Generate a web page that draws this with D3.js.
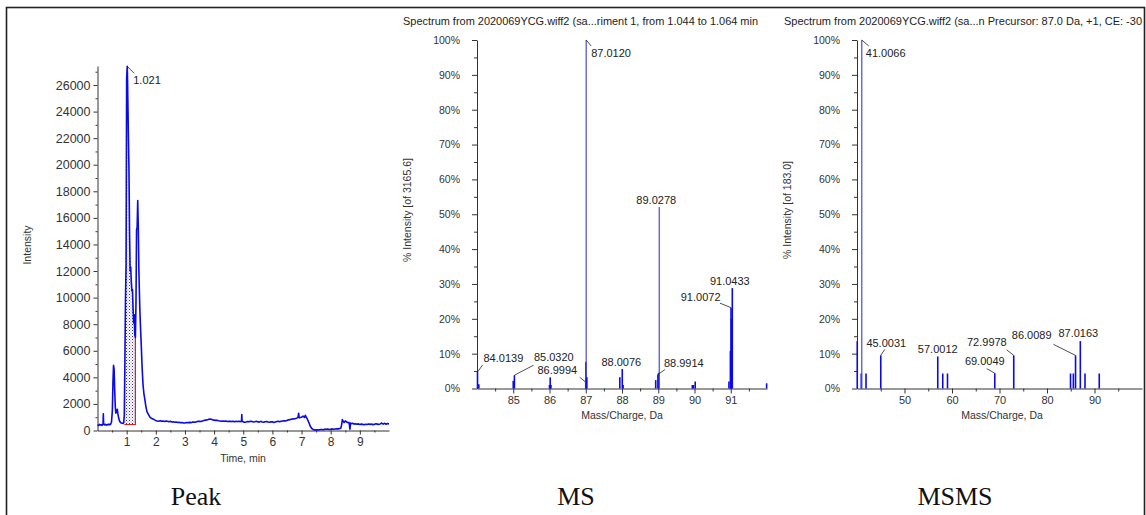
<!DOCTYPE html>
<html>
<head>
<meta charset="utf-8">
<script src="https://cdn.jsdelivr.net/npm/d3@7"></script>
<style>
  body { margin: 0; background: #fff; }
  svg { display: block; font-family: "Liberation Sans", Arial, sans-serif; }
  .axis text { fill: #333; }
  .axis path, .axis line { stroke: #333; }
</style>
</head>
<body>
<svg id="fig" width="1146" height="515"></svg>
<script>
// ---- chromatogram (time in min, intensity in counts) ----
const chromTrace = [
  [0.00,420],[0.04,380],[0.07,460],[0.10,410],[0.13,440],[0.16,390],[0.19,460],[0.20,1250],[0.21,520],
  [0.24,420],[0.27,470],[0.30,400],[0.33,450],[0.36,420],[0.39,480],[0.42,430],[0.45,470],[0.48,620],
  [0.51,1500],[0.53,3600],[0.55,4900],[0.57,4600],[0.59,3000],[0.61,1800],[0.63,1300],[0.66,1450],
  [0.68,1600],[0.70,1250],[0.73,900],[0.76,700],[0.79,600],[0.82,560],[0.85,550],[0.88,530],[0.90,600],
  [0.92,1200],[0.94,5200],[0.96,9800],[0.98,12500],[1.00,26500],[1.021,27400],[1.03,26500],[1.04,25000],
  [1.06,22100],[1.08,19600],[1.10,14800],[1.12,12000],[1.14,12300],[1.16,11200],[1.18,10500],[1.20,10600],
  [1.22,9200],[1.24,8100],[1.26,8700],[1.28,7200],[1.30,7000],[1.32,9600],[1.34,15100],[1.36,15300],
  [1.38,17300],[1.40,15200],[1.42,12000],[1.45,9300],[1.48,7500],[1.50,6500],[1.53,4800],[1.56,3500],
  [1.59,2800],[1.62,2400],[1.66,1800],[1.70,1400],[1.75,1200],[1.80,1000],[1.86,900],[1.92,850],[1.96,800],
  [2.00,760],[2.05,720],[2.10,700],[2.15,740],[2.20,690],[2.25,720],[2.30,680],[2.35,710],[2.40,700],
  [2.45,660],[2.50,690],[2.55,640],[2.60,660],[2.65,620],[2.70,640],[2.75,600],[2.80,610],[2.85,580],
  [2.90,600],[2.95,560],[3.00,570],[3.05,600],[3.10,580],[3.15,610],[3.20,590],[3.25,630],[3.30,640],
  [3.35,620],[3.40,660],[3.45,690],[3.50,700],[3.55,680],[3.60,720],[3.65,750],[3.70,780],[3.75,800],
  [3.80,830],[3.85,870],[3.90,840],[3.95,800],[4.00,780],[4.05,760],[4.10,770],[4.15,730],[4.20,720],
  [4.25,700],[4.30,710],[4.35,690],[4.40,720],[4.45,680],[4.50,690],[4.55,700],[4.60,670],[4.65,690],
  [4.70,660],[4.75,700],[4.80,680],[4.85,690],[4.90,670],[4.94,700],[4.95,1200],[4.96,690],[5.00,650],
  [5.05,620],[5.10,640],[5.15,680],[5.20,660],[5.25,700],[5.30,670],[5.35,640],[5.40,660],[5.45,700],
  [5.50,650],[5.55,630],[5.60,690],[5.65,640],[5.70,620],[5.75,660],[5.80,680],[5.85,640],[5.90,620],
  [5.95,660],[6.00,650],[6.05,610],[6.10,640],[6.15,680],[6.20,690],[6.25,660],[6.30,700],[6.35,720],
  [6.40,740],[6.45,720],[6.50,760],[6.55,800],[6.60,820],[6.65,850],[6.70,880],[6.75,860],[6.80,900],
  [6.85,950],[6.88,1000],[6.90,1300],[6.92,950],[6.95,980],[7.00,1000],[7.05,1080],[7.10,980],[7.13,1150],
  [7.16,1000],[7.20,850],[7.25,600],[7.30,320],[7.35,150],[7.40,80],[7.45,30],[7.50,50],[7.55,60],
  [7.60,40],[7.65,70],[7.70,80],[7.75,60],[7.80,100],[7.85,90],[7.90,110],[7.95,80],[8.00,100],
  [8.05,120],[8.10,90],[8.15,110],[8.20,130],[8.25,120],[8.30,140],[8.35,180],[8.38,500],[8.40,820],
  [8.43,700],[8.46,600],[8.50,720],[8.55,640],[8.60,580],[8.63,600],[8.66,100],[8.68,560],[8.70,500],
  [8.75,540],[8.80,480],[8.85,510],[8.90,470],[8.95,500],[9.00,450],[9.05,480],[9.10,460],[9.15,430],
  [9.20,470],[9.25,450],[9.30,490],[9.35,460],[9.40,480],[9.45,440],[9.50,460],[9.55,510],[9.60,480],
  [9.65,450],[9.70,500],[9.75,560],[9.80,480],[9.85,540],[9.90,470],[9.95,520],[10.00,500]
];
const peakStart = 0.92;
const peakEnd = 1.30;
const peakBaseline = 450;
const apexTime = 1.021;
const apexIntensity = 27400;
const chromYTicks = d3.range(0, 26001, 2000);
const chromXTicks = [1, 2, 3, 4, 5, 6, 7, 8, 9];

// ---- MS spectrum (m/z, % intensity) ----
const msTitle = 'Spectrum from 2020069YCG.wiff2 (sa...riment 1, from 1.044 to 1.064 min';
const msYLabel = '% Intensity [of 3165.6]';
const msPeaks = [
  [84.0139,4.7],[84.05,1.2],[85.00,2.2],[85.0320,3.8],[86.00,1.0],[86.02,3.2],[86.04,1.0],
  [86.9994,1.8],[87.005,7.6],[87.0120,100],[87.03,3.2],[87.94,3.2],[88.0076,5.6],[88.03,1.0],
  [88.93,2.4],[88.9914,4.0],[89.01,4.5],[89.0278,52.1],[89.94,1.0],[89.97,1.0],[90.02,2.0],
  [90.95,2.0],[90.99,10.8],[91.0072,23.2],[91.02,20.0],[91.0433,28.8],[91.99,1.5]
];
const msLabelMz = ['84.0139','85.0320','86.9994','87.0120','88.0076','88.9914','89.0278','91.0072','91.0433'];
const msXTicks = [85, 86, 87, 88, 89, 90, 91];

// ---- MSMS spectrum ----
const msmsTitle = 'Spectrum from 2020069YCG.wiff2 (sa...n Precursor: 87.0 Da, +1, CE: -30';
const msmsYLabel = '% Intensity [of 183.0]';
const msmsPeaks = [
  [40.05,13.6],[40.9,4.3],[41.0066,100],[41.9,4.3],[45.0031,9.5],[57.0012,9.2],[58.05,4.3],
  [59.05,4.3],[69.0049,4.4],[72.9978,9.5],[84.95,4.3],[85.55,4.3],[86.0089,9.5],[87.0163,13.6],
  [88.0,4.3],[91.0,4.3]
];
const msmsLabelMz = ['41.0066','45.0031','57.0012','69.0049','72.9978','86.0089','87.0163'];
const msmsXTicks = [50, 60, 70, 80, 90];

const pctTicks = d3.range(0, 101, 10);

// label placement (pixels relative to bar top): text offset, leader end, anchor
const msLabelLayout = {
  '84.0139': {a: 'start', tx: 6, ty: -10, lx: 5, ly: -7},
  '85.0320': {a: 'start', tx: 19.5, ty: -14.5, lx: 19, ly: -10},
  '86.9994': {a: 'end', tx: -8.5, ty: -8.5, lx: -6, ly: -5},
  '87.0120': {a: 'start', tx: 5, ty: 17, lx: 5, ly: 6},
  '88.0076': {a: 'middle', tx: -1, ty: -3},
  '88.9914': {a: 'start', tx: 6, ty: -8, lx: 7, ly: -5},
  '89.0278': {a: 'middle', tx: -3, ty: -3},
  '91.0072': {a: 'end', tx: -10.5, ty: -7, lx: -11, ly: -4.5},
  '91.0433': {a: 'middle', tx: -2.5, ty: -3}
};
const msmsLabelLayout = {
  '41.0066': {a: 'start', tx: 4, ty: 17, lx: 7, ly: 6},
  '45.0031': {a: 'middle', tx: 5.5, ty: -8, lx: 4, ly: -6},
  '57.0012': {a: 'middle', tx: 0, ty: -3},
  '69.0049': {a: 'middle', tx: -10, ty: -8, lx: -8, ly: -4.5},
  '72.9978': {a: 'end', tx: -7, ty: -9, lx: -7, ly: -5.5},
  '86.0089': {a: 'end', tx: -24, ty: -16, lx: -22, ly: -11},
  '87.0163': {a: 'middle', tx: -2, ty: -4}
};

const svg = d3.select('#fig');
const BLUE = '#0a0ae6';

// outer frame
svg.append('rect')
   .attr('x', 6.5).attr('y', 7.5).attr('width', 1138).attr('height', 520)
   .attr('fill', 'none').attr('stroke', '#222').attr('stroke-width', 1.6);

const defs = svg.append('defs');
const pat = defs.append('pattern')
   .attr('id', 'dots').attr('width', 3).attr('height', 3)
   .attr('patternUnits', 'userSpaceOnUse');
pat.append('rect').attr('width', 3).attr('height', 3).attr('fill', '#fff');
pat.append('rect').attr('width', 1).attr('height', 1).attr('fill', '#3030a0');
pat.append('rect').attr('x', 1.5).attr('y', 1.5).attr('width', 1).attr('height', 1).attr('fill', '#8080c0');

/**
 * Draws a left and bottom axis with major labelled ticks and minor ticks.
 */
function drawAxes(x, y, o) {
  const yAxis = svg.append('g').attr('class', 'axis')
     .attr('transform', 'translate(' + x.range()[0] + ',0)')
     .style('font-size', o.yFont + 'px')
     .call(d3.axisLeft(y).tickValues(o.yTicks).tickSize(o.major)
            .tickPadding(o.yPad).tickSizeOuter(0).tickFormat(o.yFormat));
  svg.append('g').attr('class', 'axis')
     .attr('transform', 'translate(' + x.range()[0] + ',0)')
     .call(d3.axisLeft(y).tickValues(o.yMinor).tickSize(o.minor)
            .tickSizeOuter(0).tickFormat(''))
     .select('.domain').remove();
  svg.append('g').attr('class', 'axis')
     .attr('transform', 'translate(0,' + y.range()[0] + ')')
     .style('font-size', o.xFont + 'px')
     .call(d3.axisBottom(x).tickValues(o.xTicks).tickSize(o.major)
            .tickPadding(3).tickSizeOuter(0).tickFormat(d3.format('d')));
  svg.append('g').attr('class', 'axis')
     .attr('transform', 'translate(0,' + y.range()[0] + ')')
     .call(d3.axisBottom(x).tickValues(o.xMinor).tickSize(o.minor)
            .tickSizeOuter(0).tickFormat(''))
     .select('.domain').remove();
  svg.selectAll('.axis text').attr('font-family', '"Liberation Sans", Arial, sans-serif');
  return yAxis;
}

function axisTitle(text, cx, cy, rotate, size) {
  svg.append('text')
     .attr('transform', 'translate(' + cx + ',' + cy + ')' + (rotate ? ' rotate(-90)' : ''))
     .attr('text-anchor', 'middle')
     .attr('font-size', size)
     .attr('fill', '#333')
     .text(text);
}

function caption(text, cx) {
  svg.append('text')
     .attr('x', cx).attr('y', 505)
     .attr('text-anchor', 'middle')
     .attr('font-family', '"Liberation Serif", "Times New Roman", serif')
     .attr('font-size', 26)
     .attr('fill', '#111')
     .text(text);
}

// ================= Peak (chromatogram) =================
const cx = d3.scaleLinear().domain([0, 10]).range([97.5, 389]);
const cy = d3.scaleLinear().domain([0, 27430]).range([430.5, 66]);

drawAxes(cx, cy, {
  yTicks: chromYTicks, yMinor: d3.range(1000, 27001, 2000),
  xTicks: chromXTicks, xMinor: d3.range(0.5, 10, 1),
  major: 4, minor: 2, yPad: 3, yFont: 12.5, xFont: 12,
  yFormat: d3.format('d')
});

const shadeData = chromTrace.filter(d => d[0] >= peakStart && d[0] <= peakEnd);
svg.append('path')
   .datum(shadeData)
   .attr('fill', 'url(#dots)')
   .attr('d', d3.area().x(d => cx(d[0])).y0(cy(peakBaseline)).y1(d => cy(d[1])));
const endVal = shadeData[shadeData.length - 1][1];
svg.append('path')
   .attr('fill', 'none').attr('stroke', '#e02020').attr('stroke-width', 1.2)
   .attr('d', 'M' + cx(peakEnd) + ',' + cy(endVal) + 'V' + cy(peakBaseline) +
              'H' + cx(peakStart));
svg.append('path')
   .datum(chromTrace)
   .attr('fill', 'none').attr('stroke', BLUE).attr('stroke-width', 1.6)
   .attr('stroke-linejoin', 'round')
   .attr('d', d3.line().x(d => cx(d[0])).y(d => cy(d[1])));

// apex annotation
const ax = cx(apexTime), ay = cy(apexIntensity);
svg.append('line').attr('x1', ax).attr('y1', ay).attr('x2', ax + 7).attr('y2', ay + 7)
   .attr('stroke', '#222').attr('stroke-width', 0.8);
svg.append('text').attr('x', ax + 6).attr('y', ay + 18).attr('font-size', 11)
   .attr('fill', '#222').text(apexTime.toFixed(3));

axisTitle('Intensity', 31, 245, true, 10.5);
axisTitle('Time, min', 243, 462, false, 10.5);
caption('Peak', 196);

// ================= Spectra =================
function drawSpectrum(x, peaks, labels, layout, o) {
  const y = d3.scaleLinear().domain([0, 100]).range([388.5, 40]);
  drawAxes(x, y, {
    yTicks: pctTicks, yMinor: d3.range(5, 100, 10),
    xTicks: o.xTicks, xMinor: o.xMinor,
    major: 5, minor: 3, yPad: 12, yFont: 10.5, xFont: 11,
    yFormat: d => d + '%'
  });
  svg.append('g').selectAll('line')
     .data(peaks).enter().append('line')
     .attr('x1', d => x(d[0])).attr('x2', d => x(d[0]))
     .attr('y1', y(0)).attr('y2', d => y(d[1]))
     .attr('stroke', d => d[1] > 40 ? '#4a4ad0' : BLUE)
     .attr('stroke-width', d => d[1] > 40 ? 1.2 : 1.6);

  const lab = svg.append('g').attr('font-size', 11).attr('fill', '#222');
  labels.forEach(t => {
    const p = peaks.find(d => Math.abs(d[0] - +t) < 1e-6);
    const L = layout[t];
    const bx = x(p[0]), by = y(p[1]);
    if (L.lx !== undefined) {
      lab.append('line').attr('x1', bx).attr('y1', by)
         .attr('x2', bx + L.lx).attr('y2', by + L.ly)
         .attr('stroke', '#222').attr('stroke-width', 0.8);
    }
    lab.append('text').attr('x', bx + L.tx).attr('y', by + L.ty)
       .attr('text-anchor', L.a).text(t);
  });

  svg.append('text').attr('x', o.titleX).attr('y', 25)
     .attr('font-size', 10.5).attr('fill', '#222')
     .attr('textLength', o.titleW).attr('lengthAdjust', 'spacingAndGlyphs')
     .text(o.title);
  axisTitle(o.yLabel, o.yLabelX, 210, true, 10.5);
  axisTitle('Mass/Charge, Da', o.xLabelX, 419, false, 10.5);
}

const msX = d3.scaleLinear().domain([84, 92]).range([477, 767]);
drawSpectrum(msX, msPeaks, msLabelMz, msLabelLayout, {
  xTicks: msXTicks, xMinor: d3.range(84.5, 92, 1),
  title: msTitle, titleX: 403, titleW: 355,
  yLabel: msYLabel, yLabelX: 411, xLabelX: 622
});
caption('MS', 576);

const msmsX = d3.scaleLinear().domain([40, 100]).range([857, 1142]);
drawSpectrum(msmsX, msmsPeaks, msmsLabelMz, msmsLabelLayout, {
  xTicks: msmsXTicks, xMinor: d3.range(45, 100, 10),
  title: msmsTitle, titleX: 784, titleW: 358,
  yLabel: msmsYLabel, yLabelX: 791, xLabelX: 1002
});
caption('MSMS', 955);
</script>
</body>
</html>
